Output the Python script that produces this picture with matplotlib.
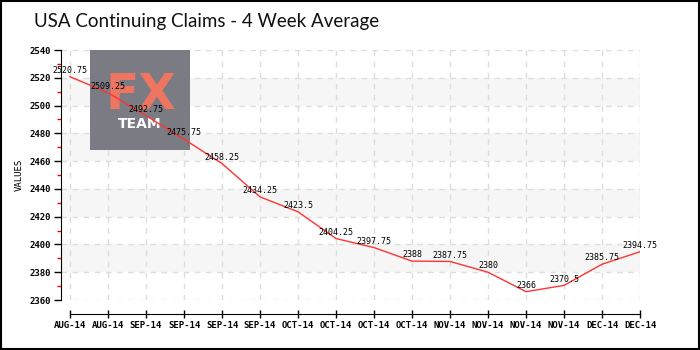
import matplotlib
matplotlib.use("Agg")
import matplotlib.pyplot as plt
from matplotlib.patches import Rectangle
from matplotlib.ticker import MultipleLocator
import numpy as np

title = "USA Continuing Claims - 4 Week Average"
labels = ["AUG-14", "AUG-14", "SEP-14", "SEP-14", "SEP-14", "SEP-14",
          "OCT-14", "OCT-14", "OCT-14", "OCT-14", "NOV-14", "NOV-14",
          "NOV-14", "NOV-14", "DEC-14", "DEC-14"]
values = [2520.75, 2509.25, 2492.75, 2475.75, 2458.25, 2434.25, 2423.5,
          2404.25, 2397.75, 2388, 2387.75, 2380, 2366, 2370.5, 2385.75,
          2394.75]
y_ticks = list(range(2360, 2541, 20))

W, H = 700, 350
fig = plt.figure(figsize=(7, 3.5), dpi=100)
fig.patch.set_facecolor("white")

def fx(px):
    return px / W

def fy(py):
    return 1 - py / H

ax = fig.add_axes([fx(61), fy(300), fx(640) - fx(61), fy(50) - fy(300)])
x = np.arange(len(values))
ax.set_xlim(-9 / 38, len(values) - 1)
ax.set_ylim(2360, 2540)

# alternating bands
for i, y0 in enumerate(y_ticks[:-1]):
    if i % 2 == 1:
        ax.axhspan(y0, y0 + 20, color="#f6f6f6", zorder=0.1, lw=0)

# grid
for yt in y_ticks:
    ax.plot([ax.get_xlim()[0], len(values) - 1], [yt, yt], color="#dddddd",
            lw=1, ls=(0, (4, 4)), zorder=0.5)
for xi in x:
    ax.plot([xi, xi], [2360, 2540], color="#dddddd", lw=1,
            ls=(0, (4, 4)), zorder=0.5)

# logo
ax.add_patch(Rectangle((fx(90), fy(150)), fx(100), fy(50) - fy(150),
                       transform=fig.transFigure, facecolor="#7b7b84",
                       edgecolor="none", zorder=0.6))
ax.text(fx(141), fy(109), "FX", transform=fig.transFigure, color="#ee7660",
        fontsize=35, fontweight="bold", ha="center", va="baseline",
        family="DejaVu Sans", zorder=0.7)
ax.text(fx(140), fy(128), "TEAM", transform=fig.transFigure, color="white",
        fontsize=10, fontweight="bold", ha="center", va="baseline",
        family="DejaVu Sans", zorder=0.7)

# line
ax.plot(x, values, color="#ff3333", lw=1, zorder=2)

for xi, v in zip(x, values):
    s = ("%g" % v)
    ax.annotate(s, (xi, v), xytext=(0, 4.5), textcoords="offset points",
                ha="center", va="center", fontsize=6,
                family="DejaVu Sans Mono", color="black", zorder=3)

# axes styling
for sp in ["top", "right"]:
    ax.spines[sp].set_visible(False)
ax.spines["left"].set_color("black")
ax.spines["bottom"].set_position(("outward", 10))
ax.spines["bottom"].set_bounds(0, len(values) - 1)

ax.set_xticks(x)
ax.set_xticklabels(labels)
ax.set_yticks(y_ticks)
ax.yaxis.set_minor_locator(MultipleLocator(10))
ax.tick_params(axis="y", which="major", length=5, width=1, colors="black",
               labelsize=6.5, pad=2)
ax.tick_params(axis="y", which="minor", length=3, width=1, color="#ff0000")
ax.tick_params(axis="x", which="major", length=6, direction="inout",
               width=1, labelsize=6.5, pad=2)
for lab in ax.get_xticklabels() + ax.get_yticklabels():
    lab.set_family("DejaVu Sans Mono")
    lab.set_fontweight("bold")

ax.set_ylabel("VALUES", fontsize=6.5, family="DejaVu Sans Mono", labelpad=4)

fig.text(fx(34), fy(22), title, fontsize=13.5, ha="left", va="center",
         family=["Lato", "DejaVu Sans"], color="#111111")

fig.patches.append(Rectangle((0.0015, 0.003), 0.997, 0.994,
                             transform=fig.transFigure, fill=False,
                             edgecolor="black", lw=1.5))

fig.savefig("out.png", dpi=100)
